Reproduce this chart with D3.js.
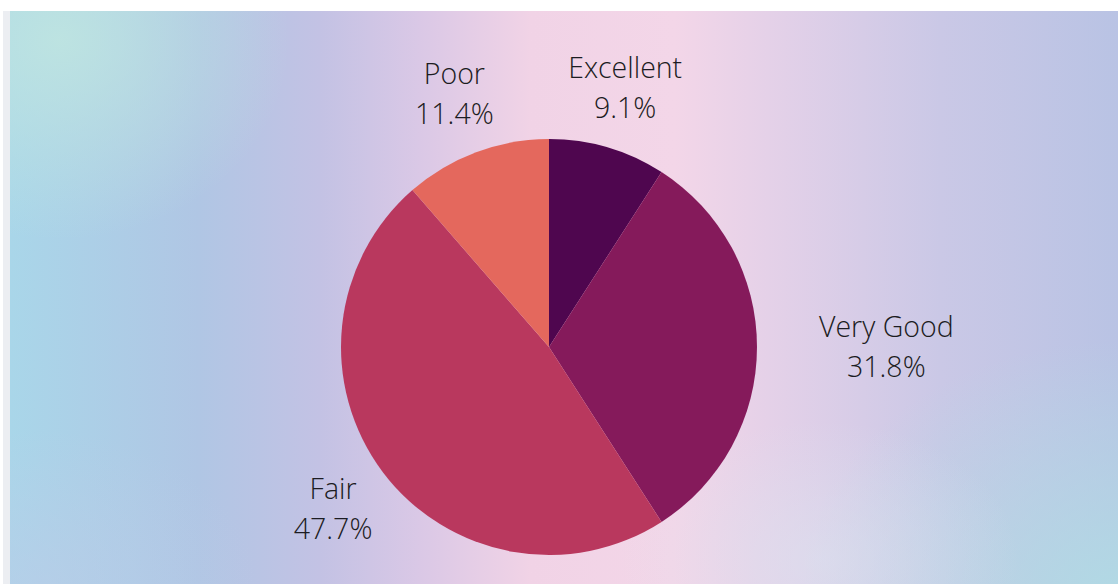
<!DOCTYPE html>
<html>
<head>
<meta charset="utf-8">
<script src="https://cdn.jsdelivr.net/npm/d3@7"></script>
<style>
  body { margin: 0; background: #fff; }
  text { font-family: "Open Sans", sans-serif; }
</style>
</head>
<body>
<svg id="chart" width="1118" height="584"></svg>
<script>
// data
var categories = ["Excellent", "Very Good", "Fair", "Poor"];
var shares = [9.1, 31.8, 47.7, 11.4];
var sliceColors = ["#4f064f", "#851a5b", "#b9385e", "#e4685d"];

var width = 1118, height = 584;
var cx = 549, cy = 347, radius = 208, labelRadius = 270;

var svg = d3.select("#chart");
var defs = svg.append("defs");

// soft gradient backdrop
var base = defs.append("linearGradient").attr("id", "bgBase")
    .attr("x1", "0%").attr("x2", "100%").attr("y1", "0%").attr("y2", "0%");
[[0, "#a9d6e9"], [0.17, "#b0c6e4"], [0.28, "#c3c2e4"], [0.37, "#dac8e6"],
 [0.47, "#f1d3e6"], [0.6, "#f3d6e8"], [0.7, "#e2d0e8"], [0.84, "#cac8e6"], [1, "#b9c3e4"]]
  .forEach(function(s){ base.append("stop").attr("offset", s[0]).attr("stop-color", s[1]); });

function radial(id, color, op){
  var g = defs.append("radialGradient").attr("id", id);
  g.append("stop").attr("offset", 0).attr("stop-color", color).attr("stop-opacity", op);
  g.append("stop").attr("offset", 1).attr("stop-color", color).attr("stop-opacity", 0);
}
radial("tl", "#c0e6e0", 0.85);
radial("br", "#b0dce4", 0.9);
radial("bm", "#dce4f0", 0.55);
radial("bl", "#bccbe8", 0.6);

defs.append("clipPath").attr("id", "bgClip")
  .append("rect").attr("x", 10).attr("y", 11).attr("width", width - 10).attr("height", height - 11);

svg.append("rect").attr("x", 3).attr("y", 11).attr("width", 7).attr("height", height - 11)
    .attr("fill", "#eceef2");
var bg = svg.append("g").attr("clip-path", "url(#bgClip)");
bg.append("rect").attr("x", 10).attr("y", 11).attr("width", width - 10).attr("height", height - 11)
    .attr("fill", "url(#bgBase)");
bg.append("ellipse").attr("cx", 60).attr("cy", 40).attr("rx", 230).attr("ry", 200).attr("fill", "url(#tl)");
bg.append("ellipse").attr("cx", 1118).attr("cy", 600).attr("rx", 320).attr("ry", 260).attr("fill", "url(#br)");
bg.append("ellipse").attr("cx", 820).attr("cy", 560).attr("rx", 200).attr("ry", 140).attr("fill", "url(#bm)");
bg.append("ellipse").attr("cx", 40).attr("cy", 590).attr("rx", 220).attr("ry", 160).attr("fill", "url(#bl)");

// pie
var pie = d3.pie().sort(null).value(function(d){ return d; });
var arcs = pie(shares);
var arc = d3.arc().innerRadius(0).outerRadius(radius);
var color = d3.scaleOrdinal().domain(categories).range(sliceColors);

var g = svg.append("g").attr("transform", "translate(" + cx + "," + cy + ")");
g.selectAll("path.slice")
  .data(arcs)
  .enter().append("path")
    .attr("class", "slice")
    .attr("d", arc)
    .attr("fill", function(d, i){ return color(categories[i]); });

// labels
var labels = g.selectAll("g.label")
  .data(arcs)
  .enter().append("g")
    .attr("class", "label");

labels.each(function(d, i){
  var a = (d.startAngle + d.endAngle) / 2;
  var el = d3.select(this);
  var t = el.append("text")
      .attr("text-anchor", "middle")
      .attr("fill", "#1c1c22")
      .attr("font-size", 28.5)
      .attr("font-weight", 300);
  t.append("tspan").attr("x", 0).attr("y", -20).attr("dy", "0.35em").text(categories[i]);
  t.append("tspan").attr("x", 0).attr("y", 20).attr("dy", "0.35em").text(shares[i].toFixed(1) + "%");
  var w = t.node().getBBox().width;
  var x = labelRadius * Math.sin(a), y = -labelRadius * Math.cos(a);
  if (Math.abs(Math.cos(a)) < 0.4) x += Math.sign(Math.sin(a)) * w / 2;
  el.attr("transform", "translate(" + x + "," + y + ")");
});
</script>
</body>
</html>
